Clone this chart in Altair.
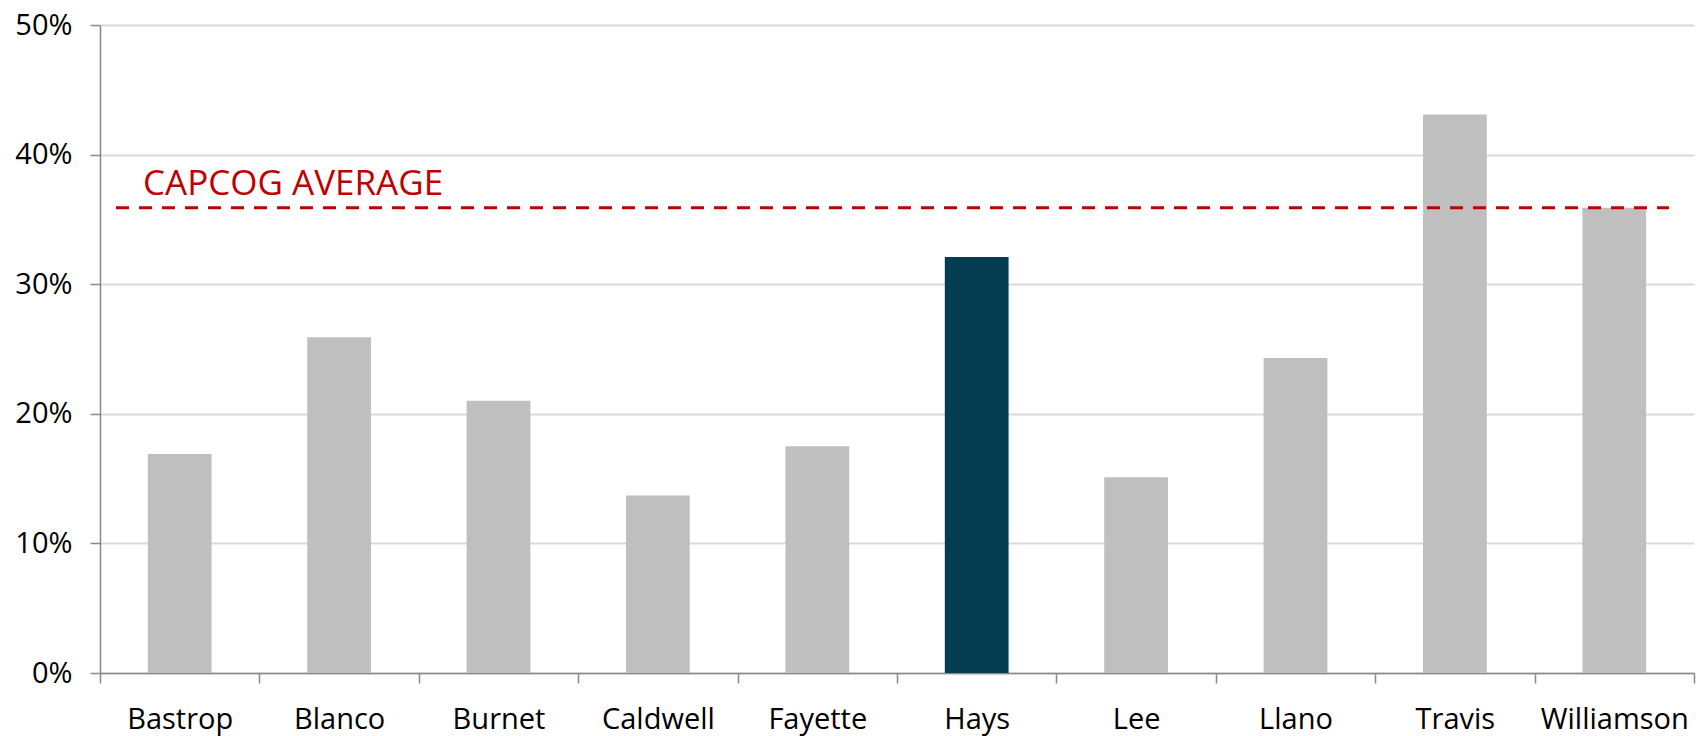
import altair as alt
import pandas as pd

# County values (share, 0-1) and the regional average
counties = ["Bastrop", "Blanco", "Burnet", "Caldwell", "Fayette",
            "Hays", "Lee", "Llano", "Travis", "Williamson"]
shares = [0.169, 0.259, 0.210, 0.137, 0.175, 0.321, 0.151, 0.243, 0.431, 0.359]
highlight = "Hays"
capcog_average = 0.359
average_label = "CAPCOG AVERAGE"

df = pd.DataFrame({"county": counties, "share": shares})
df["is_focus"] = df["county"] == highlight

FONT = "Open Sans"

# Full-width bands so ticks sit on category boundaries; bars fill 40% of a band
x_enc = alt.X(
    "county:N",
    sort=counties,
    title=None,
    scale=alt.Scale(paddingInner=0, paddingOuter=0),
    axis=alt.Axis(
        labelAngle=0,
        labelFont=FONT,
        labelFontSize=29,
        labelColor="#000000",
        labelPadding=22,
        tickBand="extent",
        tickSize=10,
        tickColor="#888888",
        tickWidth=1.5,
        domainColor="#888888",
        domainWidth=1.5,
        grid=False,
    ),
)

y_scale = alt.Scale(domain=[0, 0.5], nice=False)

bars = alt.Chart(df).mark_bar(width=alt.RelativeBandSize(0.4)).encode(
    x=x_enc,
    y=alt.Y(
        "share:Q",
        scale=y_scale,
        title=None,
        axis=alt.Axis(
            values=[0, 0.1, 0.2, 0.3, 0.4, 0.5],
            format=".0%",
            labelFont=FONT,
            labelFontSize=29,
            labelColor="#000000",
            labelPadding=18,
            tickSize=10,
            tickColor="#888888",
            tickWidth=1.5,
            domainColor="#888888",
            domainWidth=1.5,
            gridColor="#d9d9d9",
            gridWidth=2,
        ),
    ),
    color=alt.condition(
        alt.datum.is_focus, alt.value("#043d51"), alt.value("#bfbfbf")
    ),
)

avg_df = pd.DataFrame({"avg": [capcog_average], "label": [average_label]})

avg_line = alt.Chart(avg_df).mark_rule(
    color="#c00000", strokeWidth=3, strokeDash=[13, 10]
).encode(
    y=alt.Y("avg:Q", scale=y_scale),
    x=alt.value(16),
    x2=alt.value(1569),
)

avg_text = alt.Chart(avg_df).mark_text(
    align="left", baseline="alphabetic", dy=-13,
    font=FONT, fontSize=35, color="#c00000",
).encode(
    y=alt.Y("avg:Q", scale=y_scale),
    x=alt.value(43),
    text="label:N",
)

chart = (
    alt.layer(bars, avg_line, avg_text)
    .properties(
        width=1594,
        height=648,
        autosize=alt.AutoSizeParams(type="none"),
        padding={"left": 100, "top": 25, "right": 2, "bottom": 63},
        background="#ffffff",
    )
    .configure_view(stroke=None)
)

chart.save("out.html", embed_options={"renderer": "svg", "actions": False})
